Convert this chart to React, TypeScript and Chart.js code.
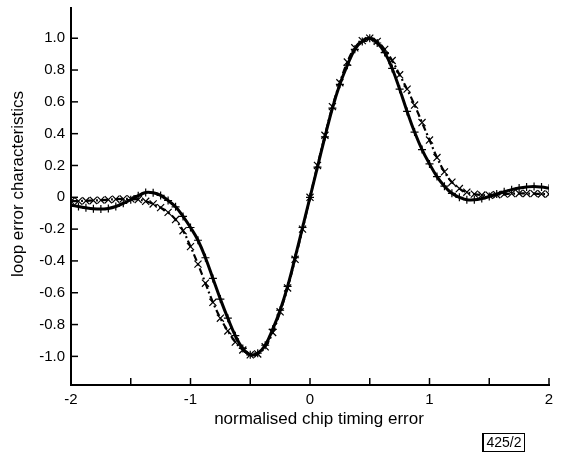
import React, { useEffect, useRef } from 'react';
import { Chart, registerables } from 'chart.js';

Chart.register(...registerables);

const FONT = "'Liberation Sans', Arial, Helvetica, sans-serif";

const xValues = [
  -2, -1.9375, -1.875, -1.8125, -1.75, -1.6875, -1.625, -1.5625, -1.5, -1.4375, -1.375, -1.3125, -1.25,
  -1.1875, -1.125, -1.0625, -1, -0.9375, -0.875, -0.8125, -0.75, -0.6875, -0.625, -0.5625, -0.5,
  -0.4375, -0.375, -0.3125, -0.25, -0.1875, -0.125, -0.0625, 0, 0.0625, 0.125, 0.1875, 0.25, 0.3125,
  0.375, 0.4375, 0.5, 0.5625, 0.625, 0.6875, 0.75, 0.8125, 0.875, 0.9375, 1, 1.0625, 1.125, 1.1875,
  1.25, 1.3125, 1.375, 1.4375, 1.5, 1.5625, 1.625, 1.6875, 1.75, 1.8125, 1.875, 1.9375, 2,
];

// solid curve (with "+" simulation marks)
const solidCurve = [
  -0.05, -0.058, -0.066, -0.072, -0.074, -0.07, -0.058, -0.038, -0.015, 0.01, 0.03, 0.028, 0.012,
  -0.02, -0.06, -0.12, -0.19, -0.27, -0.38, -0.51, -0.64, -0.76, -0.87, -0.95, -0.99,
  -0.98, -0.93, -0.83, -0.71, -0.56, -0.38, -0.19, 0, 0.19, 0.38, 0.56, 0.71, 0.83,
  0.93, 0.98, 1.0, 0.97, 0.91, 0.81, 0.68, 0.54, 0.41, 0.3, 0.21, 0.13, 0.07, 0.025,
  0, -0.015, -0.016, -0.008, 0.005, 0.02, 0.035, 0.048, 0.058, 0.065, 0.068, 0.064, 0.057,
];

// dash-dot curve (with "x" simulation marks)
const dashDotCurve = [
  -0.025, -0.024, -0.022, -0.02, -0.018, -0.015, -0.012, -0.01, -0.01, -0.014, -0.025, -0.042, -0.065,
  -0.095, -0.14, -0.21, -0.31, -0.42, -0.54, -0.66, -0.76, -0.84, -0.91, -0.96, -0.99,
  -0.985, -0.94, -0.85, -0.72, -0.57, -0.39, -0.2, 0, 0.2, 0.39, 0.57, 0.72, 0.85,
  0.94, 0.985, 1.0, 0.98, 0.93, 0.86, 0.77, 0.68, 0.58, 0.47, 0.36, 0.25, 0.16, 0.095,
  0.055, 0.032, 0.02, 0.014, 0.013, 0.016, 0.02, 0.023, 0.024, 0.024, 0.023, 0.021, 0.02,
];

const plusMarks = [
  -0.05, -0.058, -0.066, -0.072, -0.074, -0.07, -0.058, -0.038, -0.015, 0.01, 0.03, 0.028, 0.012,
  -0.02, -0.06, -0.12, -0.19, -0.27, -0.38, -0.51, -0.64, -0.76, -0.87, -0.95, -0.99,
  -0.98, -0.93, -0.83, -0.71, -0.56, -0.38, -0.19, 0, 0.19, 0.38, 0.56, 0.71, 0.83,
  0.93, 0.98, 1.0, 0.97, 0.91, 0.81, 0.68, 0.54, 0.41, 0.3, 0.21, 0.13, 0.07, 0.025,
  0, -0.015, -0.016, -0.008, 0.005, 0.02, 0.035, 0.048, 0.058, 0.065, 0.068, 0.064, 0.057,
];

const crossMarks = [
  -0.025, -0.024, -0.022, -0.02, -0.018, -0.015, -0.012, -0.01, -0.01, -0.014, -0.025, -0.042, -0.065,
  -0.095, -0.14, -0.21, -0.31, -0.42, -0.54, -0.66, -0.76, -0.84, -0.91, -0.96, -0.99,
  -0.985, -0.94, -0.85, -0.72, -0.57, -0.39, -0.2, 0, 0.2, 0.39, 0.57, 0.72, 0.85,
  0.94, 0.985, 1.0, 0.98, 0.93, 0.86, 0.77, 0.68, 0.58, 0.47, 0.36, 0.25, 0.16, 0.095,
  0.055, 0.032, 0.02, 0.014, 0.013, 0.016, 0.02, 0.023, 0.024, 0.024, 0.023, 0.021, 0.02,
];

const xTickLabels = ['-2', '-1', '0', '1', '2'];
const xTitle = 'normalised chip timing error';
const yTitle = 'loop error characteristics';
const figureLabel = '425/2';

const toPoints = (ys: number[]) => ys.map((y, i) => ({ x: xValues[i], y }));

const decorPlugin = {
  id: 'decor',
  afterDraw(chart: any) {
    const { ctx, chartArea, scales } = chart;
    const xs = scales.x;
    const ys = scales.y;
    ctx.save();
    ctx.strokeStyle = '#000';
    ctx.lineWidth = 1.5;
    xs.ticks.forEach((t: any) => {
      const p = xs.getPixelForValue(t.value);
      if (p <= chartArea.left + 1) return;
      ctx.beginPath();
      ctx.moveTo(p, chartArea.bottom);
      ctx.lineTo(p, chartArea.bottom - 7);
      ctx.stroke();
    });
    ys.ticks.forEach((t: any) => {
      const p = ys.getPixelForValue(t.value);
      ctx.beginPath();
      ctx.moveTo(chartArea.left, p);
      ctx.lineTo(chartArea.left + 7, p);
      ctx.stroke();
    });
    ctx.fillStyle = '#000';
    ctx.font = `17px ${FONT}`;
    ctx.textAlign = 'center';
    ctx.textBaseline = 'middle';
    ctx.fillText(xTitle, 319, 419);
    ctx.translate(18, 184);
    ctx.rotate(-Math.PI / 2);
    ctx.fillText(yTitle, 0, 0);
    ctx.restore();
  },
};

export default function App() {
  const ref = useRef<HTMLCanvasElement | null>(null);

  useEffect(() => {
    if (!ref.current) return;
    const chart = new Chart(ref.current, {
      type: 'scatter',
      data: {
        datasets: [
          {
            label: 'solid',
            data: toPoints(solidCurve),
            showLine: true,
            borderColor: '#000',
            borderWidth: 3,
            pointRadius: 0,
            tension: 0.4,
            fill: false,
          },
          {
            label: 'dash-dot',
            data: toPoints(dashDotCurve),
            showLine: true,
            borderColor: '#000',
            borderWidth: 2.2,
            borderDash: [7, 3, 2, 3],
            pointRadius: 0,
            tension: 0.4,
            fill: false,
          },
          {
            label: 'plus',
            data: toPoints(plusMarks),
            showLine: false,
            pointStyle: 'cross',
            pointRadius: 4,
            borderColor: '#000',
            backgroundColor: '#000',
            pointBorderWidth: 1.2,
          },
          {
            label: 'x',
            data: toPoints(crossMarks),
            showLine: false,
            pointStyle: 'crossRot',
            pointRadius: 5,
            borderColor: '#000',
            backgroundColor: '#000',
            pointBorderWidth: 1.2,
          },
        ],
      },
      options: {
        responsive: false,
        animation: false,
        events: [],
        layout: { padding: { left: 0, top: 8, right: 13, bottom: 0 } },
        plugins: { legend: { display: false }, tooltip: { enabled: false } },
        scales: {
          x: {
            type: 'linear',
            min: -2,
            max: 2,
            afterFit: (s: any) => {
              s.height = 70;
              s.paddingLeft = 0;
              s.paddingRight = 0;
            },
            border: { display: true, color: '#000', width: 2 },
            grid: { display: true, drawOnChartArea: false, drawTicks: false },
            ticks: {
              stepSize: 0.5,
              autoSkip: false,
              maxRotation: 0,
              padding: 6,
              color: '#000',
              font: { family: FONT, size: 15 },
              callback: (v: any) => {
                const n = Number(v);
                if (!Number.isInteger(n)) return '';
                return xTickLabels[n + 2];
              },
            },
          },
          y: {
            type: 'linear',
            min: -1.18,
            max: 1.19,
            afterFit: (s: any) => {
              s.width = 71;
              s.paddingTop = 0;
              s.paddingBottom = 0;
            },
            border: { display: true, color: '#000', width: 2 },
            grid: { display: true, drawOnChartArea: false, drawTicks: false },
            ticks: {
              stepSize: 0.2,
              includeBounds: false,
              padding: 6,
              color: '#000',
              font: { family: FONT, size: 15 },
              callback: (v: any) => {
                const n = Number(v);
                if (Math.abs(n) < 1e-9) return '0';
                return n.toFixed(1);
              },
            },
          },
        },
      },
      plugins: [decorPlugin],
    });
    return () => chart.destroy();
  }, []);

  return (
    <div>
      <canvas
        ref={ref}
        width={562}
        height={455}
        style={{ position: 'absolute', left: 0, top: 0, width: 562, height: 455 }}
      />
      <div
        style={{
          position: 'absolute',
          left: 482,
          top: 433,
          width: 40,
          height: 17,
          border: '1px solid #000',
          borderLeftWidth: 2,
          fontFamily: FONT,
          fontSize: 14,
          lineHeight: '17px',
          textAlign: 'center',
          color: '#000',
        }}
      >
        {figureLabel}
      </div>
    </div>
  );
}
